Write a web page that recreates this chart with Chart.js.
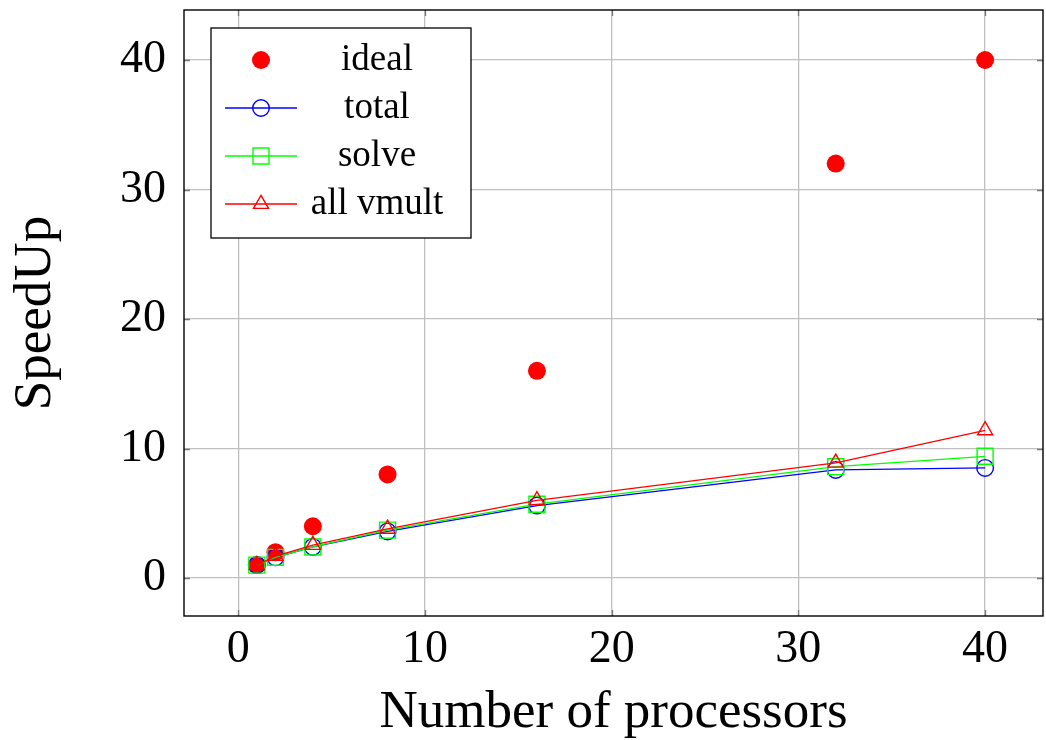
<!DOCTYPE html>
<html>
<head>
<meta charset="utf-8">
<title>SpeedUp</title>
<script src="https://cdn.jsdelivr.net/npm/chart.js@4/dist/chart.umd.min.js"></script>
<style>
  html, body { margin: 0; padding: 0; background: #fff; }
  #chart { display: block; }
</style>
</head>
<body>
<canvas id="chart" width="1046" height="740"></canvas>
<script>
// number of processors
const processors = [1, 2, 4, 8, 16, 32, 40];

// speed-up values per series
const ideal = [1, 2, 4, 8, 16, 32, 40];
const total = [1.0, 1.6, 2.4, 3.6, 5.6, 8.35, 8.5];
const solve = [1.0, 1.6, 2.4, 3.7, 5.7, 8.6, 9.4];
const allVmult = [1.0, 1.7, 2.55, 3.8, 6.0, 8.9, 11.4];

const legendLabels = ['ideal', 'total', 'solve', 'all vmult'];

const serif = '"Liberation Serif", "DejaVu Serif", serif';

// pair x values with a series
function points(values) {
    return processors.map((p, i) => ({ x: p, y: values[i] }));
}

// fixed axis box sizes, no extra label padding
function fixSize(s, w, h) {
    if (w !== null) s.width = w;
    if (h !== null) s.height = h;
    s.paddingTop = 0;
    s.paddingBottom = 0;
    s.paddingLeft = 0;
    s.paddingRight = 0;
}

// legend box drawn inside the plot, like pgfplots does
const boxLegend = {
    id: 'boxLegend',
    afterDraw(chart) {
        const ctx = chart.ctx;
        const left = 211, top = 28, width = 260, height = 210;
        ctx.save();
        ctx.fillStyle = '#fff';
        ctx.fillRect(left, top, width, height);
        ctx.strokeStyle = '#000';
        ctx.lineWidth = 1.3;
        ctx.strokeRect(left, top, width, height);

        chart.data.datasets.forEach((ds, i) => {
            const y = 60 + i * 48;
            if (ds.showLine !== false) {
                ctx.strokeStyle = ds.borderColor;
                ctx.lineWidth = ds.borderWidth;
                ctx.beginPath();
                ctx.moveTo(225, y);
                ctx.lineTo(297, y);
                ctx.stroke();
            }
            ctx.fillStyle = ds.pointBackgroundColor;
            ctx.strokeStyle = ds.pointBorderColor;
            ctx.lineWidth = ds.pointBorderWidth;
            Chart.helpers.drawPoint(ctx, {
                pointStyle: ds.pointStyle,
                radius: ds.pointRadius,
                rotation: 0,
                borderWidth: ds.pointBorderWidth
            }, 261, y);

            ctx.fillStyle = '#000';
            ctx.font = '37px ' + serif;
            ctx.textAlign = 'center';
            ctx.textBaseline = 'middle';
            ctx.fillText(legendLabels[i], 377, y);
        });
        ctx.restore();
    }
};

// frame and inner tick marks
const frame = {
    id: 'frame',
    afterDatasetsDraw(chart) {
        const { ctx, chartArea: a, scales } = chart;
        ctx.save();
        ctx.strokeStyle = '#777';
        ctx.lineWidth = 1.3;
        ctx.beginPath();
        scales.x.ticks.forEach(t => {
            const px = Math.round(scales.x.getPixelForValue(t.value)) + 0.5;
            ctx.moveTo(px, a.bottom); ctx.lineTo(px, a.bottom - 6);
            ctx.moveTo(px, a.top); ctx.lineTo(px, a.top + 6);
        });
        scales.y.ticks.forEach(t => {
            const py = Math.round(scales.y.getPixelForValue(t.value)) + 0.5;
            ctx.moveTo(a.left, py); ctx.lineTo(a.left + 6, py);
            ctx.moveTo(a.right, py); ctx.lineTo(a.right - 6, py);
        });
        ctx.stroke();
        ctx.strokeStyle = '#000';
        ctx.lineWidth = 1.4;
        ctx.strokeRect(a.left, a.top, a.right - a.left, a.bottom - a.top);
        ctx.restore();
    }
};

new Chart(document.getElementById('chart'), {
    type: 'line',
    data: {
        datasets: [{
                label: legendLabels[0],
                data: points(ideal),
                showLine: false,
                borderColor: '#ff0000',
                borderWidth: 0,
                pointStyle: 'circle',
                pointRadius: 9,
                pointBackgroundColor: '#ff0000',
                pointBorderColor: '#ff0000',
                pointBorderWidth: 0,
                order: 4
            },
            {
                label: legendLabels[1],
                data: points(total),
                borderColor: '#0000ff',
                borderWidth: 1.3,
                pointStyle: 'circle',
                pointRadius: 8.3,
                pointBackgroundColor: 'rgba(0,0,0,0)',
                pointBorderColor: '#0000ff',
                pointBorderWidth: 1.4,
                order: 3
            },
            {
                label: legendLabels[2],
                data: points(solve),
                borderColor: '#00ff00',
                borderWidth: 1.3,
                pointStyle: 'rect',
                pointRadius: 11.3,
                pointBackgroundColor: 'rgba(0,0,0,0)',
                pointBorderColor: '#00ff00',
                pointBorderWidth: 1.4,
                order: 2
            },
            {
                label: legendLabels[3],
                data: points(allVmult),
                borderColor: '#ff0000',
                borderWidth: 1.3,
                pointStyle: 'triangle',
                pointRadius: 8.7,
                pointBackgroundColor: 'rgba(0,0,0,0)',
                pointBorderColor: '#ff0000',
                pointBorderWidth: 1.4,
                order: 1
            }
        ]
    },
    options: {
        responsive: false,
        animation: false,
        clip: false,
        layout: {
            autoPadding: false,
            padding: { left: 0, top: 10, right: 3, bottom: 0 }
        },
        plugins: {
            legend: { display: false },
            tooltip: { enabled: false }
        },
        elements: { line: { tension: 0 } },
        scales: {
            x: {
                type: 'linear',
                min: -2.9,
                max: 43.1,
                afterFit: s => fixSize(s, null, 124),
                grid: { color: '#c0c0c0', lineWidth: 1.3, drawTicks: false },
                border: { display: false },
                ticks: {
                    stepSize: 10,
                    includeBounds: false,
                    padding: 6,
                    color: '#000',
                    font: { family: serif, size: 46 }
                },
                title: {
                    display: true,
                    text: 'Number of processors',
                    color: '#000',
                    padding: 0,
                    font: { family: serif, size: 53, lineHeight: 1 }
                }
            },
            y: {
                type: 'linear',
                min: -2.93,
                max: 43.86,
                afterFit: s => fixSize(s, 184, null),
                grid: { color: '#c0c0c0', lineWidth: 1.3, drawTicks: false },
                border: { display: false },
                ticks: {
                    stepSize: 10,
                    includeBounds: false,
                    padding: 18,
                    color: '#000',
                    font: { family: serif, size: 46 }
                },
                title: {
                    display: true,
                    text: 'SpeedUp',
                    color: '#000',
                    padding: { top: 10, bottom: 0 },
                    font: { family: serif, size: 53, lineHeight: 1 }
                }
            }
        }
    },
    plugins: [frame, boxLegend]
});
</script>
</body>
</html>
